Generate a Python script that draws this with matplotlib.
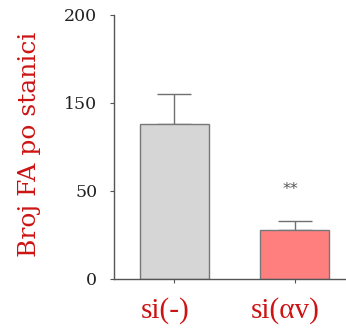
import matplotlib
matplotlib.use("Agg")
import matplotlib.pyplot as plt
import matplotlib.transforms as mtransforms

# Data
groups = ["si(-)", "si(\u03b1v)"]
means = [88.0, 28.0]
errors = [17.0, 5.0]
bar_colors = ["#d6d6d6", "#ff7f7f"]
ytick_values = [0, 50, 100, 150]
ytick_labels = ["0", "50", "150", "200"]
ylabel = "Broj FA po stanici"
sig_marker = "**"

red = "#cc1414"
axis_gray = "#555555"

fig = plt.figure(figsize=(3.46, 3.28), dpi=100)
ax = fig.add_axes([0.3295, 0.1494, 0.6705, 0.8049])

x = list(range(len(groups)))
ax.bar(x, means, width=0.575, color=bar_colors, edgecolor="#777777", linewidth=1.0, zorder=2)
ax.errorbar(x, means, yerr=[[0] * len(errors), errors], fmt="none",
            ecolor="#707070", elinewidth=1.0, capsize=12.5, capthick=1.0, zorder=1)

ax.text(x[1] - 0.03, 51, sig_marker, ha="center", va="center",
        fontsize=11.5, color="#555555", family="DejaVu Sans")

ax.set_xlim(-0.504, 1.429)
ax.set_ylim(0, 150)

ax.spines["top"].set_visible(False)
ax.spines["right"].set_visible(False)
for s in ("left", "bottom"):
    ax.spines[s].set_color(axis_gray)
    ax.spines[s].set_linewidth(1.0)

ax.set_yticks(ytick_values)
ax.set_yticklabels(ytick_labels, family="DejaVu Serif", fontsize=12.5, color="#222222")
ax.tick_params(axis="y", length=3, width=0.8, color=axis_gray, pad=9)

ax.set_xticks(x)
ax.set_xticklabels(groups, family="Liberation Serif", fontsize=21, color=red)
ax.tick_params(axis="x", length=3, width=0.8, color=axis_gray, pad=10)
shift = mtransforms.ScaledTranslation(-9 / 100, 0, fig.dpi_scale_trans)
for lab in ax.get_xticklabels():
    lab.set_transform(lab.get_transform() + shift)

fig.text(0.084, 0.56, ylabel, rotation=90, ha="center", va="center",
         family="DejaVu Serif", fontsize=18, color=red)

fig.savefig("out.png", dpi=100)
